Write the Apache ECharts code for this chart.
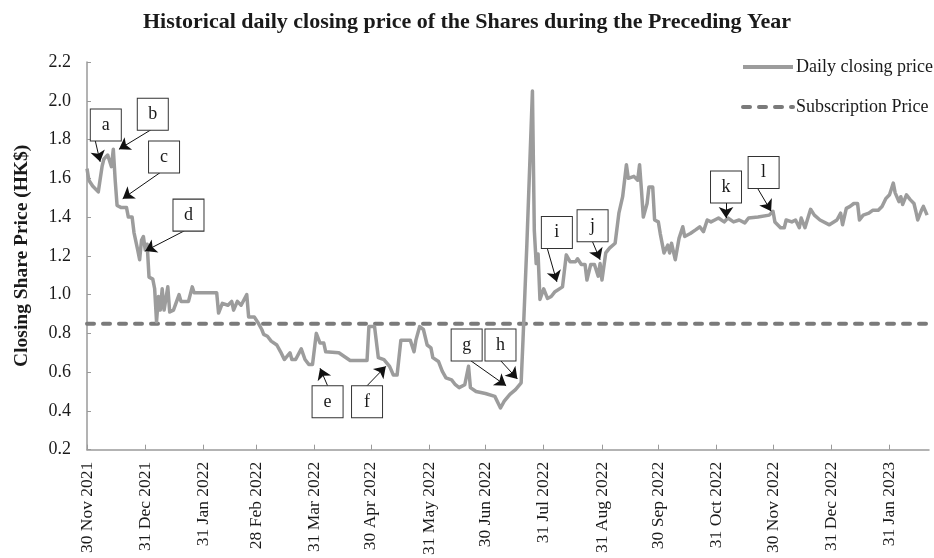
<!DOCTYPE html>
<html>
<head>
<meta charset="utf-8">
<title>Historical daily closing price</title>
<script src="https://cdn.jsdelivr.net/npm/echarts@6/dist/echarts.min.js"></script>
<style>
  html, body { margin: 0; padding: 0; background: #fff; }
  #main { width: 934px; height: 558px; }
</style>
</head>
<body>
<div id="main"></div>
<script>
// closing prices
var priceDates = [
  '2021-11-30','2021-12-01','2021-12-02','2021-12-03','2021-12-06','2021-12-07','2021-12-08','2021-12-09','2021-12-11','2021-12-12','2021-12-13','2021-12-14','2021-12-15','2021-12-16','2021-12-18','2021-12-21','2021-12-22','2021-12-24','2021-12-25','2021-12-27','2021-12-28','2021-12-29','2021-12-30','2021-12-31',
  '2022-01-01','2022-01-02','2022-01-04','2022-01-05','2022-01-06','2022-01-07','2022-01-08','2022-01-09','2022-01-10','2022-01-12','2022-01-13','2022-01-15','2022-01-18','2022-01-19','2022-01-23','2022-01-25','2022-01-26',
  '2022-02-07','2022-02-08','2022-02-10','2022-02-13','2022-02-15','2022-02-16','2022-02-18','2022-02-20','2022-02-23','2022-02-24','2022-02-27',
  '2022-03-01','2022-03-03','2022-03-04','2022-03-06','2022-03-08','2022-03-11','2022-03-13','2022-03-15','2022-03-18','2022-03-19','2022-03-21','2022-03-24','2022-03-26','2022-03-28','2022-03-30',
  '2022-04-01','2022-04-03','2022-04-05','2022-04-06','2022-04-13','2022-04-19','2022-04-28','2022-04-29',
  '2022-05-02','2022-05-04','2022-05-07','2022-05-10','2022-05-12','2022-05-14','2022-05-16','2022-05-21','2022-05-23','2022-05-24','2022-05-26','2022-05-28','2022-05-30',
  '2022-06-01','2022-06-02','2022-06-05','2022-06-07','2022-06-09','2022-06-12','2022-06-14','2022-06-16','2022-06-19','2022-06-21','2022-06-22','2022-06-25','2022-06-30',
  '2022-07-05','2022-07-08','2022-07-10','2022-07-13','2022-07-16','2022-07-19','2022-07-20','2022-07-21','2022-07-22','2022-07-25','2022-07-26','2022-07-27','2022-07-28','2022-07-29','2022-07-31',
  '2022-08-02','2022-08-04','2022-08-06','2022-08-10','2022-08-12','2022-08-14','2022-08-17','2022-08-18','2022-08-20','2022-08-22','2022-08-23','2022-08-25','2022-08-27','2022-08-29','2022-08-30','2022-08-31',
  '2022-09-02','2022-09-04','2022-09-07','2022-09-09','2022-09-11','2022-09-13','2022-09-14','2022-09-17','2022-09-19','2022-09-20','2022-09-21','2022-09-22','2022-09-24','2022-09-25','2022-09-27','2022-09-28','2022-09-30',
  '2022-10-01','2022-10-03','2022-10-05','2022-10-06','2022-10-07','2022-10-09','2022-10-11','2022-10-13','2022-10-14','2022-10-17','2022-10-20','2022-10-22','2022-10-24','2022-10-26','2022-10-28','2022-10-30',
  '2022-11-01','2022-11-04','2022-11-06','2022-11-09','2022-11-12','2022-11-15','2022-11-17','2022-11-22','2022-11-28','2022-11-30',
  '2022-12-01','2022-12-04','2022-12-06','2022-12-07','2022-12-10','2022-12-12','2022-12-14','2022-12-15','2022-12-17','2022-12-20','2022-12-22','2022-12-23','2022-12-25','2022-12-30',
  '2023-01-03','2023-01-05','2023-01-06','2023-01-08','2023-01-10','2023-01-12','2023-01-14','2023-01-15','2023-01-17','2023-01-20','2023-01-22','2023-01-25','2023-01-27','2023-01-29','2023-01-31',
  '2023-02-02','2023-02-03','2023-02-05','2023-02-06','2023-02-07','2023-02-09','2023-02-11','2023-02-13','2023-02-14','2023-02-15','2023-02-17','2023-02-18','2023-02-20'
];
var priceValues = [
  1.65,1.59,1.60,1.56,1.53,1.52,1.66,1.70,1.72,1.71,1.66,1.75,1.59,1.46,1.45,1.45,1.40,1.40,1.32,1.23,1.18,1.28,1.30,1.23,
  1.26,1.09,1.08,1.03,0.86,0.99,0.92,1.03,0.92,1.04,0.91,0.92,1.00,0.965,0.965,1.04,1.01,
  1.01,0.905,0.955,0.945,0.965,0.92,0.965,0.945,1.00,0.885,0.885,
  0.855,0.82,0.795,0.785,0.76,0.74,0.705,0.665,0.70,0.665,0.665,0.72,0.665,0.64,0.64,
  0.80,0.75,0.75,0.705,0.70,0.66,0.66,0.835,
  0.835,0.675,0.665,0.63,0.585,0.585,0.765,0.765,0.705,0.765,0.835,0.82,0.74,
  0.725,0.675,0.655,0.605,0.57,0.56,0.535,0.52,0.535,0.63,0.52,0.50,0.49,
  0.475,0.415,0.45,0.485,0.51,0.545,0.77,1.01,1.25,2.05,1.33,1.16,1.21,0.975,1.03,
  0.98,0.99,1.015,1.04,1.205,1.17,1.17,1.185,1.155,1.155,1.075,1.155,1.155,1.095,1.16,1.075,
  1.215,1.24,1.265,1.42,1.505,1.67,1.60,1.61,1.59,1.67,1.54,1.40,1.47,1.555,1.555,1.385,1.375,
  1.315,1.215,1.255,1.215,1.265,1.18,1.29,1.35,1.30,1.315,1.335,1.35,1.325,1.385,1.375,1.385,
  1.395,1.375,1.395,1.375,1.385,1.37,1.395,1.40,1.41,1.43,
  1.375,1.345,1.345,1.385,1.375,1.385,1.345,1.395,1.345,1.44,1.41,1.42,1.385,1.36,
  1.385,1.42,1.36,1.445,1.455,1.47,1.47,1.385,1.41,1.42,1.435,1.435,1.455,1.495,1.515,
  1.575,1.525,1.48,1.505,1.465,1.515,1.49,1.47,1.43,1.385,1.435,1.455,1.41
];

var subscriptionPrice = 0.85;
var axisStart = '2021-11-30';
var axisEnd = '2023-02-21';

var tickDates = ['2021-11-30','2021-12-31','2022-01-31','2022-02-28','2022-03-31','2022-04-30','2022-05-31',
  '2022-06-30','2022-07-31','2022-08-31','2022-09-30','2022-10-31','2022-11-30','2022-12-31','2023-01-31'];
var monthNames = ['Jan','Feb','Mar','Apr','May','Jun','Jul','Aug','Sep','Oct','Nov','Dec'];

// callouts: letter, box position, arrow start, arrow tip
var noteLetters = ['a','b','c','d','e','f','g','h','i','j','k','l'];
var noteBoxDates = ['2021-12-10','2022-01-04','2022-01-10','2022-01-23','2022-04-07','2022-04-28','2022-06-20','2022-07-08','2022-08-07','2022-08-26','2022-11-05','2022-11-25'];
var noteBoxValues = [1.875,1.93,1.71,1.41,0.447,0.447,0.74,0.74,1.32,1.355,1.555,1.63];
var noteFromDates = ['2021-12-04','2022-01-03','2022-01-08','2022-01-21','2022-04-07','2022-04-28','2022-06-22','2022-07-08','2022-08-02','2022-08-26','2022-11-05','2022-11-22'];
var noteFromValues = [1.81,1.85,1.63,1.33,0.53,0.53,0.66,0.66,1.235,1.272,1.475,1.545];
var noteTipDates = ['2021-12-07','2021-12-17','2021-12-19','2021-12-31','2022-04-03','2022-05-08','2022-07-11','2022-07-17','2022-08-07','2022-08-30','2022-11-05','2022-11-29'];
var noteTipValues = [1.685,1.75,1.495,1.225,0.62,0.63,0.53,0.565,1.066,1.18,1.395,1.43];

// dates become day timestamps on a plain value axis
function toTime(s) {
  var p = s.split('-');
  return new Date(+p[0], +p[1] - 1, +p[2]).getTime();
}

var serif = 'Liberation Serif';
var textColor = '#1a1a1a';

var priceData = priceDates.map(function (d, i) { return [toTime(d), priceValues[i]]; });
var subData = [[toTime(axisStart), subscriptionPrice], [toTime(axisEnd), subscriptionPrice]];

var arrowData = noteLetters.map(function (n, i) {
  return [
    { coord: [toTime(noteFromDates[i]), noteFromValues[i]] },
    { coord: [toTime(noteTipDates[i]), noteTipValues[i]] }
  ];
});
var boxData = noteLetters.map(function (n, i) {
  return { name: n, coord: [toTime(noteBoxDates[i]), noteBoxValues[i]] };
});
var tickTimes = tickDates.map(toTime);

var chart = echarts.init(document.getElementById('main'));

var option = {
  animation: false,
  backgroundColor: '#fff',
  title: {
    text: 'Historical daily closing price of the Shares during the Preceding Year',
    left: 'center',
    top: 6,
    textStyle: { fontFamily: serif, fontWeight: 'bold', fontSize: 22, color: textColor }
  },
  legend: {
    orient: 'vertical',
    left: 741,
    top: 58,
    padding: 0,
    itemWidth: 50,
    itemHeight: 14,
    itemGap: 22,
    itemStyle: { opacity: 0 },
    lineStyle: { width: 4 },
    textStyle: { fontFamily: serif, fontSize: 18, color: textColor, padding: [0, 0, 0, -2] },
    data: ['Daily closing price', 'Subscription Price']
  },
  grid: { left: 87, right: 5, top: 62, bottom: 108 },
  xAxis: {
    type: 'value',
    min: toTime(axisStart),
    max: toTime(axisEnd),
    splitLine: { show: false },
    axisLine: { lineStyle: { color: '#9a9a9a', width: 1.5 } },
    axisTick: {
      inside: true,
      length: 5,
      customValues: tickTimes,
      lineStyle: { color: '#9a9a9a' }
    },
    axisLabel: {
      rotate: 90,
      margin: 12,
      fontFamily: serif,
      fontSize: 17.5,
      color: textColor,
      customValues: tickTimes,
      formatter: function (v) {
        var d = new Date(v);
        return d.getDate() + ' ' + monthNames[d.getMonth()] + ' ' + d.getFullYear();
      }
    }
  },
  yAxis: {
    type: 'value',
    min: 0.2,
    max: 2.2,
    interval: 0.2,
    name: 'Closing Share Price (HK$)',
    nameLocation: 'middle',
    nameGap: 55,
    nameTextStyle: { fontFamily: serif, fontWeight: 'bold', fontSize: 19.5, color: textColor },
    splitLine: { show: false },
    axisLine: { show: true, lineStyle: { color: '#9a9a9a', width: 1.5 } },
    axisTick: { show: true, inside: true, length: 4, lineStyle: { color: '#9a9a9a' } },
    axisLabel: {
      margin: 16,
      fontFamily: serif,
      fontSize: 18,
      color: textColor,
      formatter: function (v) { return v.toFixed(1); }
    }
  },
  series: [
    {
      name: 'Subscription Price',
      type: 'line',
      data: subData,
      symbol: 'none',
      z: 2,
      lineStyle: { color: '#7a7a7a', width: 4, type: [7, 9], cap: 'round' },
      itemStyle: { color: '#7a7a7a' }
    },
    {
      name: 'Daily closing price',
      type: 'line',
      data: priceData,
      symbol: 'none',
      z: 3,
      lineStyle: { color: '#9c9c9c', width: 3.5, join: 'round' },
      itemStyle: { color: '#9c9c9c' }
    },
    {
      name: 'arrows',
      type: 'line',
      data: [],
      z: 4,
      markLine: {
        silent: true,
        symbol: ['none', 'arrow'],
        symbolSize: 11,
        label: { show: false },
        lineStyle: { color: '#111', width: 1, type: 'solid' },
        data: arrowData
      }
    },
    {
      name: 'boxes',
      type: 'line',
      data: [],
      z: 5,
      markPoint: {
        silent: true,
        symbol: 'rect',
        symbolSize: [31, 32],
        itemStyle: { color: '#fff', borderColor: '#333', borderWidth: 1 },
        label: {
          show: true,
          position: 'inside',
          formatter: '{b}',
          fontFamily: serif,
          fontSize: 18,
          color: textColor
        },
        data: boxData
      }
    }
  ]
};

chart.setOption(option);
</script>
</body>
</html>
